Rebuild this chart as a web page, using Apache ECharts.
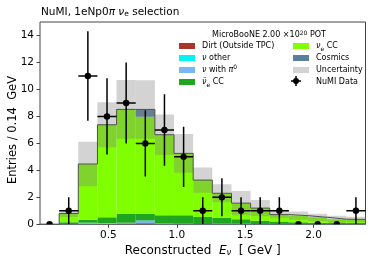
<!DOCTYPE html>
<html><head><meta charset="utf-8">
<script src="https://cdn.jsdelivr.net/npm/echarts@6/dist/echarts.min.js"></script>
<style>html,body{margin:0;padding:0;background:#fff}#c{width:374px;height:267px}</style>
</head><body><div id="c"></div>
<script>
// ---- data ----
const binEdges = [0, 0.14, 0.28, 0.42, 0.56, 0.70, 0.84, 0.98, 1.12, 1.26, 1.40, 1.54, 1.68, 1.82, 1.96, 2.10, 2.24, 2.38];
const dirt      = [0, 0,    0,    0.04, 0.06, 0.08, 0,    0,    0,    0,    0,    0,    0,    0,    0,    0,    0];
const nuOther   = [0, 0.03, 0.12, 0.06, 0.02, 0,    0.04, 0.04, 0.03, 0.05, 0.04, 0.02, 0.02, 0.02, 0.02, 0.02, 0.02];
const nuPi0     = [0, 0,    0,    0,    0.03, 0.20, 0.02, 0,    0,    0,    0,    0,    0,    0,    0,    0,    0];
const nuebarCC  = [0, 0.12, 0.22, 0.43, 0.65, 0.50, 0.62, 0.63, 0.52, 0.43, 0.33, 0.24, 0.18, 0.13, 0.10, 0.08, 0.08];
const nueCC     = [0, 0.65, 4.13, 6.85, 7.76, 7.19, 5.96, 4.59, 2.73, 1.82, 1.20, 0.94, 0.52, 0.49, 0.40, 0.28, 0.26];
const cosmics   = [0, 0,    0,    0,    0,    0.55, 0,    0,    0,    0,    0,    0,    0,    0,    0,    0,    0];
const uncertainty = [0, 0.25, 1.65, 1.67, 2.18, 2.17, 1.50, 1.43, 0.94, 0.67, 0.90, 0.60, 0.27, 0.30, 0.27, 0.26, 0.20];
const dataCounts = [0, 1, 11, 8, 9, 6, 7, 5, 1, 2, 1, 1, 1, 0, 0, 0, 1];
const dataErr    = [0, 1, 3.32, 2.83, 3, 2.45, 2.65, 2.24, 1, 1.41, 1, 1, 1, 0, 0, 0, 1];
const xTicks = [0.5, 1.0, 1.5, 2.0];
const yTicks = [0, 2, 4, 6, 8, 10, 12, 14];

const components = [
  {name: 'Dirt (Outside TPC)', color: '#a8362a', vals: dirt},
  {name: 'ν other', color: '#00f5f5', vals: nuOther},
  {name: 'ν with π0', color: '#78b6f4', vals: nuPi0},
  {name: 'ν̄e CC', color: '#1fa61f', vals: nuebarCC},
  {name: 'νe CC', color: '#80ff00', vals: nueCC},
  {name: 'Cosmics', color: '#5b7e9c', vals: cosmics}
];
const FONT = 'DejaVu Sans';
const nb = dataCounts.length;
const base = new Array(nb).fill(0);
const series = [];

function rectItem(params, api) {
  const lo = api.value(2), hi = api.value(3);
  if (hi - lo <= 0) return null;
  const p0 = api.coord([api.value(0), hi]);
  const p1 = api.coord([api.value(1), lo]);
  return {type: 'rect', shape: {x: p0[0], y: p0[1], width: p1[0] - p0[0], height: p1[1] - p0[1]},
          style: {fill: api.visual('color')}};
}

components.forEach(c => {
  const data = [];
  for (let i = 0; i < nb; i++) {
    data.push([binEdges[i], binEdges[i + 1], base[i], base[i] + c.vals[i]]);
    base[i] += c.vals[i];
  }
  series.push({type: 'custom', name: c.name, itemStyle: {color: c.color}, renderItem: rectItem,
    encode: {x: [0, 1], y: [2, 3]}, data: data, clip: true, silent: true});
});
const total = base.slice();

// uncertainty band
series.push({type: 'custom', name: 'Uncertainty', itemStyle: {color: 'rgba(128,128,128,0.35)'}, renderItem: rectItem,
  encode: {x: [0, 1], y: [2, 3]}, clip: true, silent: true,
  data: total.map((t, i) => [binEdges[i], binEdges[i + 1], Math.max(0, t - uncertainty[i]), t + uncertainty[i]])});

// total outline (step)
const stepData = total.map((t, i) => [binEdges[i], t]);
stepData.push([binEdges[nb], total[nb - 1]]);
stepData.push([binEdges[nb], 0]);
series.push({type: 'line', name: 'total', step: 'end', data: stepData, symbol: 'none', silent: true,
  lineStyle: {color: '#505050', width: 1}, clip: true, z: 3});

// data points
series.push({type: 'custom', name: 'NuMI Data', itemStyle: {color: '#000'}, clip: true, z: 4, silent: true,
  encode: {x: 0, y: 1},
  data: dataCounts.map((n, i) => [(binEdges[i] + binEdges[i + 1]) / 2, n, dataErr[i], binEdges[i], binEdges[i + 1]]),
  renderItem: function (params, api) {
    const x = api.value(0), y = api.value(1), e = api.value(2);
    const c = api.coord([x, y]);
    const top = api.coord([x, y + e]), bot = api.coord([x, y - e]);
    const l = api.coord([api.value(3), y]), r = api.coord([api.value(4), y]);
    const children = [];
    if (e > 0) {
      children.push({type: 'line', shape: {x1: c[0], y1: top[1], x2: c[0], y2: bot[1]}, style: {stroke: '#000', lineWidth: 1.5}});
      children.push({type: 'line', shape: {x1: l[0], y1: c[1], x2: r[0], y2: c[1]}, style: {stroke: '#000', lineWidth: 1.5}});
    }
    children.push({type: 'circle', shape: {cx: c[0], cy: c[1], r: 3.2}, style: {fill: '#000'}});
    return {type: 'group', children: children};
  }});

const rich = {
  n: {fontFamily: FONT, fontSize: 8, color: '#000'},
  i: {fontFamily: FONT, fontSize: 8, fontStyle: 'italic', color: '#000'},
  s: {fontFamily: FONT, fontSize: 6, color: '#000', verticalAlign: 'bottom', lineHeight: 9},
  p: {fontFamily: FONT, fontSize: 6, color: '#000', verticalAlign: 'top', lineHeight: 9}
};
const legendLabels = {
  'Dirt (Outside TPC)': '{n|Dirt (Outside TPC)}',
  'ν other': '{i|ν}{n| other}',
  'ν with π0': '{i|ν}{n| with }{i|π}{p|0}',
  'ν̄e CC': '{i|ν̄}{s|e}{n| CC}',
  'νe CC': '{i|ν}{s|e}{n| CC}',
  'Cosmics': '{n|Cosmics}',
  'Uncertainty': '{n|Uncertainty}',
  'NuMI Data': '{n|NuMI Data}'
};
const legendCommon = {
  orient: 'vertical', itemWidth: 16, itemHeight: 6, itemGap: 0, selectedMode: false,
  textStyle: {fontFamily: FONT, fontSize: 8, lineHeight: 12, color: '#000', padding: [0, 0, 0, 2], rich: rich},
  formatter: name => legendLabels[name]
};

const option = {
  animation: false,
  textStyle: {fontFamily: FONT},
  title: [
    {text: 'NuMI, 1eNp0{i|π} {i|ν}{s|e} selection', left: 41, top: 7, padding: 0,
     textStyle: {fontFamily: FONT, fontSize: 10.5, fontWeight: 'normal', color: '#000',
       rich: {i: {fontFamily: FONT, fontSize: 10.5, fontStyle: 'italic'}, s: {fontFamily: FONT, fontSize: 7.5, verticalAlign: 'bottom', lineHeight: 11}}}},
    {text: '{n|MicroBooNE 2.00 ×10}{p|20}{n| POT}', left: 264, top: 25, textAlign: 'center',
     textStyle: {fontFamily: FONT, fontSize: 8, fontWeight: 'normal', color: '#000', rich: rich}}
  ],
  grid: {left: 40, right: 8.5, top: 22, bottom: 42.7, show: true, borderColor: '#444', borderWidth: 1,
         backgroundColor: 'transparent', outerBoundsMode: 'none'},
  legend: [
    Object.assign({left: 174, top: 35, data: components.slice(0, 4).map(c => ({name: c.name, icon: 'rect', itemStyle: {color: c.color}}))}, legendCommon),
    Object.assign({left: 288, top: 35, data: [
      {name: 'νe CC', icon: 'rect', itemStyle: {color: '#80ff00'}},
      {name: 'Cosmics', icon: 'rect', itemStyle: {color: '#5b7e9c'}},
      {name: 'Uncertainty', icon: 'rect', itemStyle: {color: '#d3d3d3'}},
      {name: 'NuMI Data', icon: 'rect', itemStyle: {color: 'rgba(0,0,0,0)', opacity: 0}}
    ]}, legendCommon)
  ],
  xAxis: {
    type: 'value', min: 0, max: 2.38, interval: 0.5,
    name: 'Reconstructed  {i|E}{s|ν}  [ GeV ]', nameLocation: 'middle', nameGap: 17,
    nameTextStyle: {fontFamily: FONT, fontSize: 12, color: '#000',
      rich: {i: {fontFamily: FONT, fontSize: 12, fontStyle: 'italic'}, s: {fontFamily: FONT, fontSize: 8.5, fontStyle: 'italic', verticalAlign: 'bottom', lineHeight: 13}}},
    axisLine: {show: false}, splitLine: {show: false},
    axisTick: {show: true, inside: false, length: 3.5, lineStyle: {color: '#444', width: 1}, customValues: xTicks},
    axisLabel: {fontFamily: FONT, fontSize: 10.5, color: '#000', margin: 5, customValues: xTicks, formatter: v => v.toFixed(1)}
  },
  yAxis: {
    type: 'value', min: 0, max: 15, interval: 2,
    axisLine: {show: false}, splitLine: {show: false},
    axisTick: {show: true, inside: false, length: 3.5, lineStyle: {color: '#444', width: 1}, customValues: yTicks},
    axisLabel: {fontFamily: FONT, fontSize: 10.5, color: '#000', margin: 6, customValues: yTicks, formatter: v => String(v)}
  },
  graphic: [
    {type: 'text', x: 13, y: 130, rotation: Math.PI / 2,
     style: {text: 'Entries / 0.14  GeV', font: '11.5px DejaVu Sans', fill: '#000', align: 'center', verticalAlign: 'middle'}},
    {type: 'group', x: 296, y: 81, children: [
      {type: 'line', shape: {x1: -5, y1: 0, x2: 5, y2: 0}, style: {stroke: '#000', lineWidth: 1.5}},
      {type: 'line', shape: {x1: 0, y1: -5, x2: 0, y2: 5}, style: {stroke: '#000', lineWidth: 1.5}},
      {type: 'circle', shape: {cx: 0, cy: 0, r: 3}, style: {fill: '#000'}}
    ]}
  ],
  series: series
};
const chart = echarts.init(document.getElementById('c'), null, {renderer: 'canvas'});
chart.setOption(option);
</script>
</body></html>
